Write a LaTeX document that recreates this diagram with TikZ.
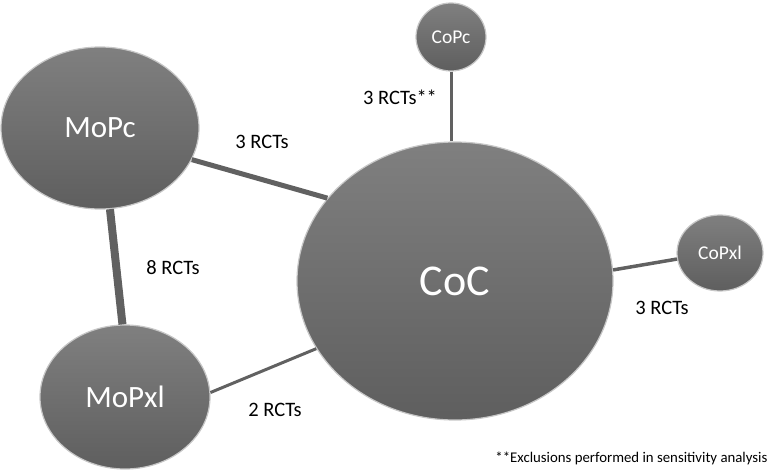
\documentclass[tikz,border=0pt]{standalone}
\usepackage{fontspec}
\setmainfont{Carlito}
\usepackage{tikz}
\usetikzlibrary{shapes.geometric}

\begin{document}
\begin{tikzpicture}[x=1pt,y=-1pt,
	trial node/.style={ellipse,draw=black!22,line width=1.2pt,top color=black!50,bottom color=black!63,
		text=white,inner sep=0pt},
	link/.style={draw=black!62},
	rct/.style={font=\fontsize{20.5}{24}\selectfont}]
	\useasboundingbox (0,0) rectangle (774,476);
	\node[trial node,minimum width=198,minimum height=162,font=\fontsize{31}{36}\selectfont] (mopc) at (100,128) {MoPc};
	\node[trial node,minimum width=170,minimum height=144,font=\fontsize{31}{36}\selectfont] (mopxl) at (125,397) {MoPxl};
	\node[trial node,minimum width=316,minimum height=278,font=\fontsize{44}{50}\selectfont] (coc) at (455,281) {CoC};
	\node[trial node,minimum width=70,minimum height=68,font=\fontsize{19.5}{23}\selectfont] (copc) at (451,37) {CoPc};
	\node[trial node,minimum width=86,minimum height=76,font=\fontsize{19.5}{23}\selectfont] (copxl) at (720,253) {CoPxl};

	% connectors
	\draw[link,line width=8] (mopc.-83) -- (mopxl.92);
	\draw[link,line width=5] (mopc.-19) -- (coc.147);
	\draw[link,line width=3] (mopxl.3) -- (coc.206);
	\draw[link,line width=3] (copc.south) -- (copc.south |- coc.north);
	\draw[link,line width=3.5] (coc.4) -- (copxl.188);

	% labels
	\node[rct] (l1) at (400,97) {3 RCTs**};
	\node[rct] (l2) at (262,142) {3 RCTs};
	\node[rct] (l3) at (173,268) {8 RCTs};
	\node[rct] (l4) at (662,308) {3 RCTs};
	\node[rct] (l5) at (275,410) {2 RCTs};
	\node[font=\fontsize{14.8}{18}\selectfont,anchor=east] (note) at (771,458) {**Exclusions performed in sensitivity analysis};
\end{tikzpicture}
\end{document}
